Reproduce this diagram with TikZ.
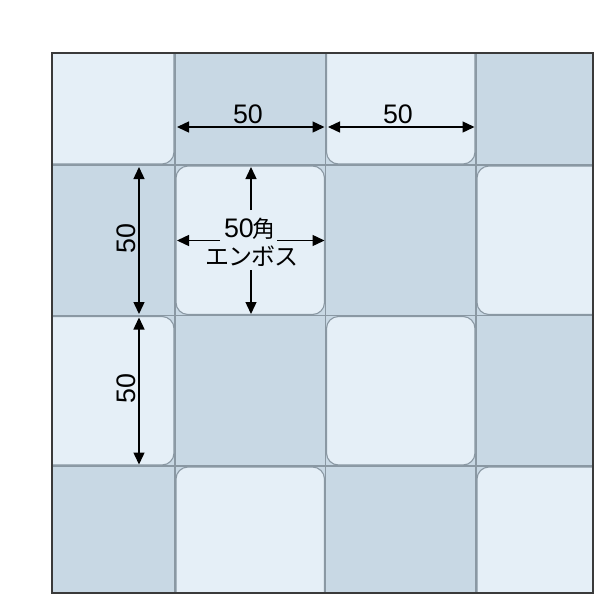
\documentclass[tikz,border=0pt]{standalone}
\usepackage{fontspec}
\setmainfont{Liberation Sans}
\newfontfamily\jp{Noto Sans CJK JP}
\newfontfamily\jpt[LetterSpace=-4]{Noto Sans CJK JP}
\usetikzlibrary{arrows.meta}
\definecolor{lightt}{HTML}{E5EFF7}
\definecolor{darkt}{HTML}{C8D8E4}
\definecolor{edget}{HTML}{8A98A3}
\definecolor{frame}{HTML}{3A3A3A}
\begin{document}
\begin{tikzpicture}[x=0.5pt,y=-0.5pt,
 lighttile/.style={fill=lightt,draw=edget,line width=0.55pt,rounded corners=6pt},
 darkcell/.style={fill=darkt,draw=edget,line width=0.55pt},
 tipa/.tip={Triangle[length=6pt,width=5.5pt]},
 dimboth/.style={line width=0.7pt,tipa-tipa},
 dimone/.style={line width=0.7pt,-tipa},
 lbl/.style={font=\fontsize{13.4pt}{15pt}\selectfont,inner sep=0pt},
 jlbl/.style={font=\fontsize{12pt}{14pt}\selectfont\jpt,inner sep=0pt}]
\useasboundingbox (0,0) rectangle (600,600);
\begin{scope}
\clip (52,53) rectangle (593,593);
\fill[darkt] (52,53) rectangle (593,593);
\foreach \i/\j in {1/0,3/0,0/1,2/1,1/2,3/2,0/3,2/3}{
  \draw[darkcell] ({24.5+150.5*\i},{14.5+150.5*\j}) rectangle ++(150.5,150.5);
}
\foreach \i/\j in {0/0,2/0,1/1,3/1,0/2,2/2,1/3,3/3}{
  \draw[lighttile] ({25.5+150.5*\i},{15.5+150.5*\j}) rectangle ++(148.5,148.5);
}
\end{scope}
\draw[frame,line width=0.75pt] (52,53) rectangle (593,593);
% top dimensions
\coordinate (t1a) at (177,127);
\coordinate (t1b) at (324.5,127);
\coordinate (t2a) at (328,127);
\coordinate (t2b) at (474.5,127);
\draw[dimboth] (t1a) -- (t1b);
\draw[dimboth] (t2a) -- (t2b);
\node[lbl,anchor=base] (l1) at (248,123) {50};
\node[lbl,anchor=base] (l2) at (398,123) {50};
% left dimensions
\coordinate (v1a) at (139,167);
\coordinate (v1b) at (139,314);
\coordinate (v2a) at (139,317.5);
\coordinate (v2b) at (139,464.5);
\draw[dimboth] (v1a) -- (v1b);
\draw[dimboth] (v2a) -- (v2b);
\node[lbl,rotate=90] (l3) at (126,238.5) {50};
\node[lbl,rotate=90] (l4) at (126,388.5) {50};
% center tile
\node[lbl,anchor=base] (n50) at (250,237) {50\hspace{-0.5pt}{\jp\fontsize{11.5pt}{14pt}\selectfont 角}};
\node[jlbl] (emb) at (252,256.5) {エンボス};
\coordinate (cu) at (251,167);
\coordinate (cd) at (251,314);
\coordinate (cl) at (177,240.5);
\coordinate (cr) at (324.5,240.5);
\draw[dimone] (251,210) -- (cu);
\draw[dimone] (251,270) -- (cd);
\draw[dimone] (220,240.5) -- (cl);
\draw[dimone] (277,240.5) -- (cr);
\end{tikzpicture}
\end{document}
